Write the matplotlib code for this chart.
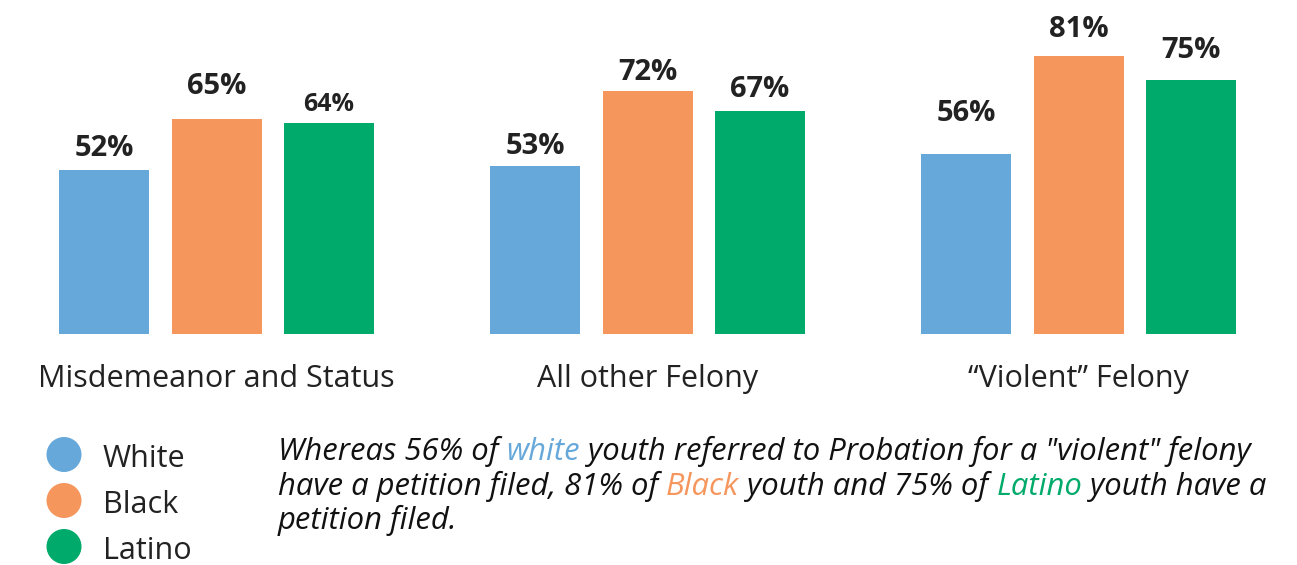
import numpy as np
import matplotlib
matplotlib.use("Agg")
import matplotlib.pyplot as plt
from matplotlib.patches import Ellipse

plt.rcParams["font.family"] = ["Open Sans", "DejaVu Sans"]

# -----------------------------------------------------------------------------
# data
# -----------------------------------------------------------------------------
categories = ["Misdemeanor and Status", "All other Felony", "\u201cViolent\u201d Felony"]
groups = ["White", "Black", "Latino"]
white = [52, 53, 56]
black = [65, 72, 81]
latino = [64, 67, 75]
colors = ["#65A8D9", "#F5965D", "#00AA6A"]
label_pad = [14, 25, 12, 12, 11, 14, 33, 19, 22]   # px above bar
label_size = [21, 21, 18, 21, 21, 21, 21, 21, 21]

W, H = 1297, 565
fig = plt.figure(figsize=(W / 100, H / 100), dpi=100)
ax = fig.add_axes([0, (H - 334) / H, 1, 334 / H])

step, bw, off = 431.0, 90.0, 112.5
x0 = 216.5
ax.set_xlim(-x0 / step, (W - x0) / step)
ax.set_ylim(10, 10 + 334 / 3.915)

x = np.arange(len(categories))
for j, (vals, c) in enumerate(zip([white, black, latino], colors)):
    xs = x + (j - 1) * off / step
    ax.bar(xs, vals, width=bw / step, color=c, linewidth=0)
for i in range(len(categories)):
    for j, vals in enumerate([white, black, latino]):
        idx = i * 3 + j
        ax.annotate(f"{vals[i]}%", (x[i] + (j - 1) * off / step, vals[i]),
                    xytext=(0, label_pad[idx] * 0.72), textcoords="offset points",
                    ha="center", va="baseline", fontsize=label_size[idx],
                    fontweight="bold", color="#222222")
ax.axis("off")

# category labels
for i, cat in enumerate(categories):
    px = x0 + i * step
    fig.text(px / W, 1 - 387 / H, cat, ha="center", va="baseline",
             fontsize=22, color="#222222")

# legend
for j, (g, c) in enumerate(zip(groups, colors)):
    cy = 454.5 + j * 46
    fig.patches.append(Ellipse((64 / W, 1 - cy / H), 35 / W, 35 / H,
                               transform=fig.transFigure, color=c, linewidth=0))
    fig.text(103 / W, 1 - (cy + 12.5) / H, g, ha="left", va="baseline",
             fontsize=22, color="#222222")

# annotation paragraph with coloured words
lines = [
    [("Whereas 56% of ", "#111111"), ("white", colors[0]),
     (" youth referred to Probation for a \"violent\" felony", "#111111")],
    [("have a petition filed, 81% of ", "#111111"), ("Black", colors[1]),
     (" youth and 75% of ", "#111111"), ("Latino", colors[2]),
     (" youth have a", "#111111")],
    [("petition filed.", "#111111")],
]
baselines = [460, 495, 529]
renderer = fig.canvas.get_renderer()
for parts, by in zip(lines, baselines):
    px = 278
    for s, c in parts:
        t = fig.text(px / W, 1 - by / H, s, ha="left", va="baseline",
                     fontsize=22.3, style="italic", color=c)
        px += t.get_window_extent(renderer).width

fig.savefig("out.png", dpi=100, facecolor="white")
